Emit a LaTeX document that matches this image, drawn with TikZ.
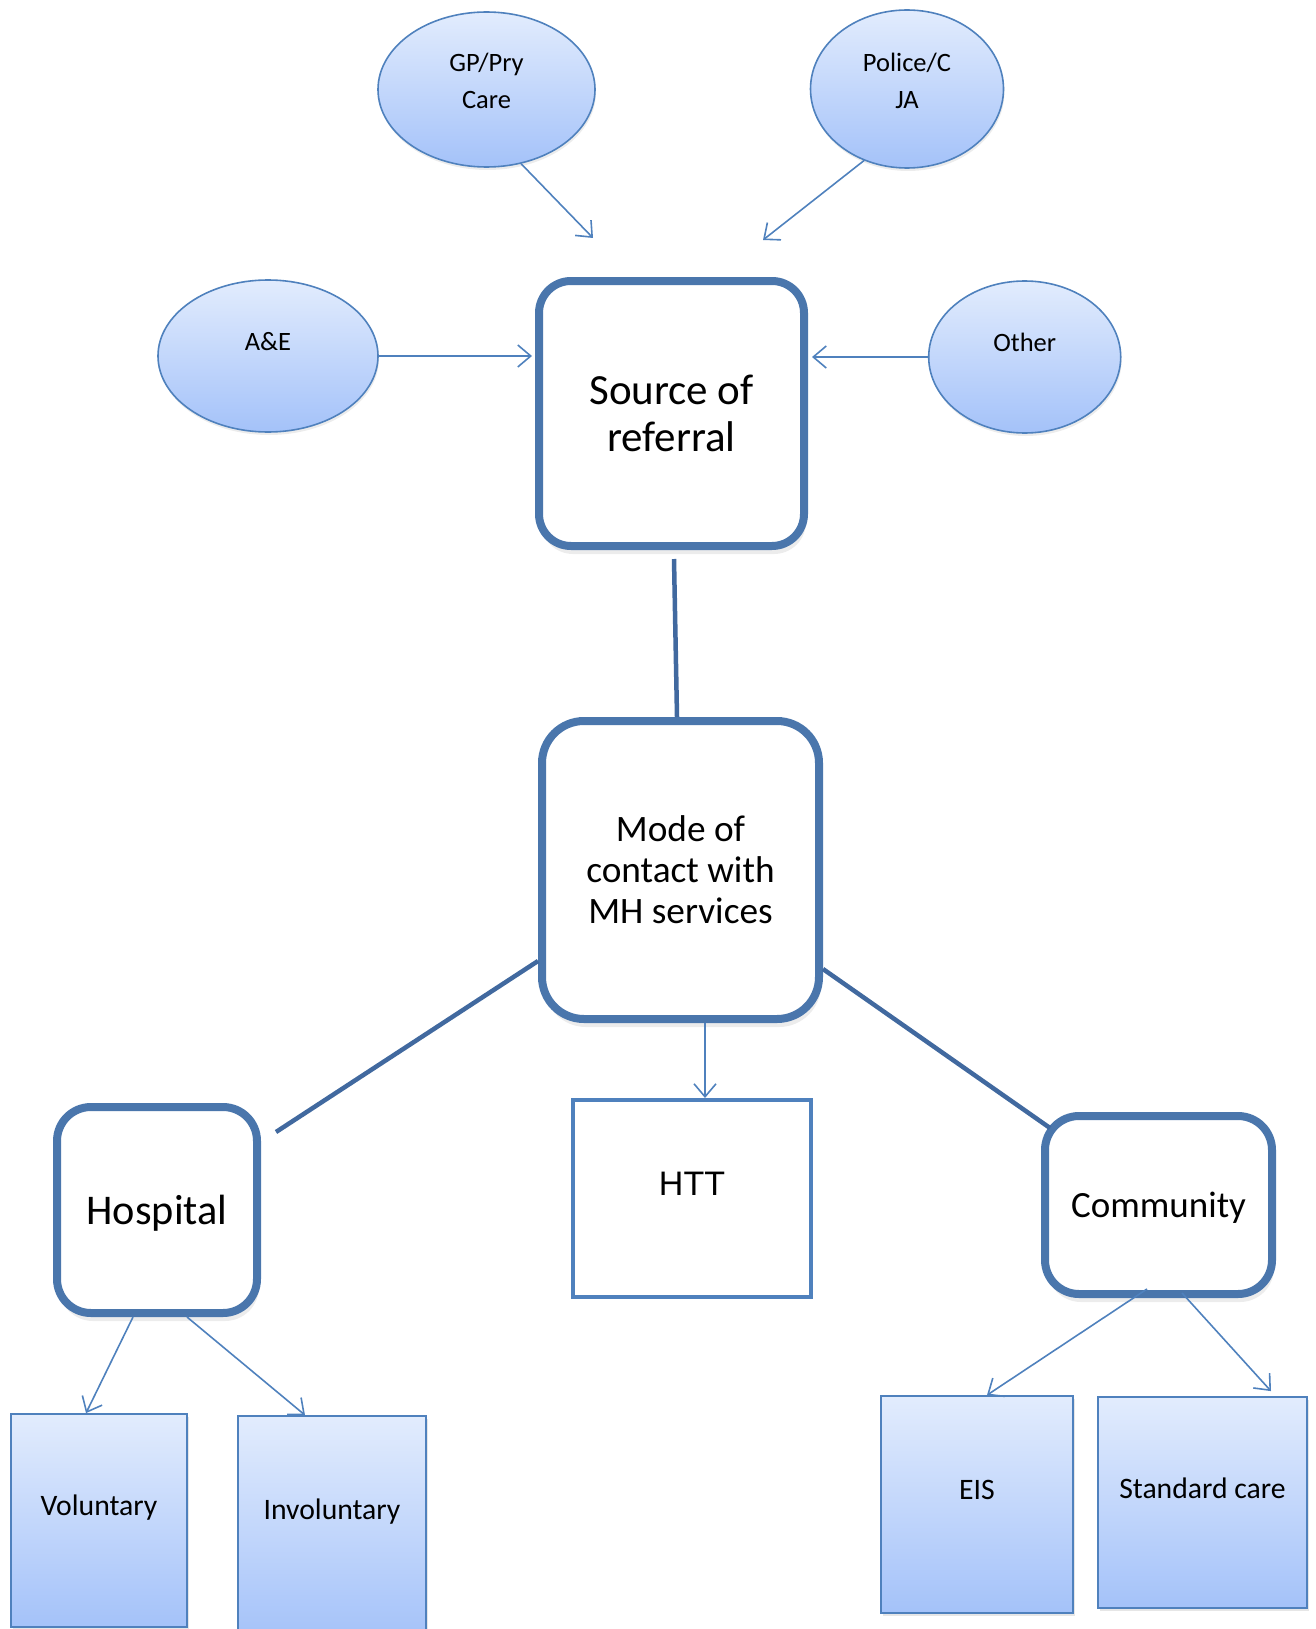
\documentclass[tikz,border=0pt]{standalone}
\usepackage{fontspec}
\setmainfont{Carlito}
\newfontfamily\arialfont{Liberation Sans}
\usetikzlibrary{arrows.meta,shapes.geometric,shadows}
\definecolor{boxblue}{HTML}{4A76AC}
\definecolor{linblue}{HTML}{4F81BD}
\definecolor{conblue}{HTML}{41699F}
\definecolor{gradtop}{HTML}{E2ECFD}
\definecolor{gradbot}{HTML}{A4C2F9}
\tikzset{
  thickbox/.style={draw=boxblue, line width=8pt, fill=white, inner sep=0pt, align=center,
    drop shadow={shadow xshift=2pt, shadow yshift=-8pt, opacity=0.15}},
  ell/.style={ellipse, draw=linblue, line width=1.6pt, inner sep=0pt,
    top color=gradtop, bottom color=gradbot,
    drop shadow={shadow xshift=1pt, shadow yshift=-3pt, opacity=0.15}},
  thinbox/.style={rectangle, draw=linblue, line width=1.8pt, inner sep=0pt,
    top color=gradtop, bottom color=gradbot,
    drop shadow={shadow xshift=1.5pt, shadow yshift=-3pt, opacity=0.2}},
  etxt/.style={font=\fontsize{26.5}{37}\selectfont, align=center, inner sep=0pt},
  btxt/.style={font=\fontsize{29.7}{35}\selectfont, inner sep=0pt},
  arr/.style={draw=linblue, line width=1.6pt, -{Straight Barb[length=13pt,width=22pt,line width=1.6pt]}},
  conn/.style={draw=conblue, line width=4.5pt},
}
\begin{document}
\begin{tikzpicture}[x=1pt,y=-1pt]
\useasboundingbox (0,0) rectangle (1316,1629);

% ellipses
\node[ell, minimum width=217pt, minimum height=155pt] (gp) at (486.5,89.5) {};
\node[etxt] (gpt) at ([yshift=8.5pt]gp.center) {GP/Pry\\Care};
\node[ell, minimum width=193pt, minimum height=158pt] (pol) at (907,89) {};
\node[etxt] (polt) at ([yshift=8pt]pol.center) {Police/C\\JA};
\node[ell, minimum width=220pt, minimum height=152pt] (ae) at (268,356) {};
\node[etxt] (aet) at ([yshift=14pt]ae.center) {A\&E};
\node[ell, minimum width=192pt, minimum height=152pt] (oth) at (1024.7,357) {};
\node[etxt] (otht) at ([yshift=15pt]oth.center) {Other};

% main boxes
\node[thickbox, rounded corners=32pt, minimum width=265pt, minimum height=265pt,
  font=\fontsize{43}{47}\selectfont] (src) at (671.5,413.5) {Source of\\referral};
\node[thickbox, rounded corners=42pt, minimum width=277pt, minimum height=298pt,
  font=\fontsize{37.3}{41}\selectfont] (mode) at (680.5,870) {Mode of\\contact with\\MH services};
\node[thickbox, rounded corners=34pt, minimum width=200pt, minimum height=206pt] (hosp) at (157,1210) {};
\node[font=\fontsize{42.3}{47}\selectfont, inner sep=0pt] (hospt) at ([yshift=-3pt]hosp.center) {Hospital};
\node[thickbox, rounded corners=34pt, minimum width=227pt, minimum height=178pt] (comm) at (1158.5,1205) {};
\node[font=\fontsize{37}{44}\selectfont, inner sep=0pt] (commt) at ([yshift=-3pt]comm.center) {Community};
\node[rectangle, draw=linblue, line width=4pt, fill=white, inner sep=0pt,
  minimum width=238pt, minimum height=197pt] (htt) at (692,1198.5) {};
\node[font=\arialfont\fontsize{34}{40}\selectfont, inner sep=0pt] (httt) at ([yshift=15pt]htt.center) {HTT};

% leaf boxes
\node[thinbox, minimum width=176pt, minimum height=213pt] (vol) at (99,1520.5) {};
\node[btxt] (volt) at ([yshift=12.5pt]vol.center) {Voluntary};
\node[thinbox, minimum width=188pt, minimum height=224pt] (inv) at (332,1528) {};
\node[btxt] (invt) at ([yshift=16pt]inv.center) {Involuntary};
\node[thinbox, minimum width=192pt, minimum height=217pt] (eis) at (977,1504.5) {};
\node[btxt] (eist) at ([yshift=15pt]eis.center) {EIS};
\node[thinbox, minimum width=209pt, minimum height=211pt] (std) at (1202.5,1502.5) {};
\node[btxt] (stdt) at ([yshift=14pt]std.center) {Standard care};

% free ends
\coordinate (gpend) at (593,238);
\coordinate (polend) at (763,240);

% arrows into source
\draw[arr] (gp.-65) -- (gpend);
\draw[arr] (pol.-121) -- (polend);
\draw[arr, shorten >=3pt] (ae.east) -- (ae.east -| src.west);
\draw[arr, shorten >=4pt] (oth.west) -- (oth.west -| src.east);

% thick connectors
\draw[conn] ([xshift=2.5pt,yshift=-9pt]src.south) -- ([xshift=-3.5pt]mode.north);
\draw[conn] ([yshift=-91pt]mode.west) -- ([xshift=15pt,yshift=-29pt]hosp.north east);
\draw[conn] ([yshift=-99pt]mode.east) -- ([xshift=9pt,yshift=-16pt]comm.north west);

% thin arrows below
\draw[arr] ([xshift=24.5pt]mode.south) -- ([xshift=13pt]htt.north);
\draw[arr] ([xshift=-24pt]hosp.south) -- ([xshift=-13pt]vol.north);
\draw[arr] ([xshift=30pt]hosp.south) -- ([xshift=-27pt]inv.north);
\draw[arr] ([xshift=-11.5pt,yshift=9pt]comm.south) -- ([xshift=10pt]eis.north);
\draw[arr] ([xshift=23.5pt,yshift=5pt]comm.south) -- ([xshift=68.5pt,yshift=5pt]std.north);
\end{tikzpicture}
\end{document}
